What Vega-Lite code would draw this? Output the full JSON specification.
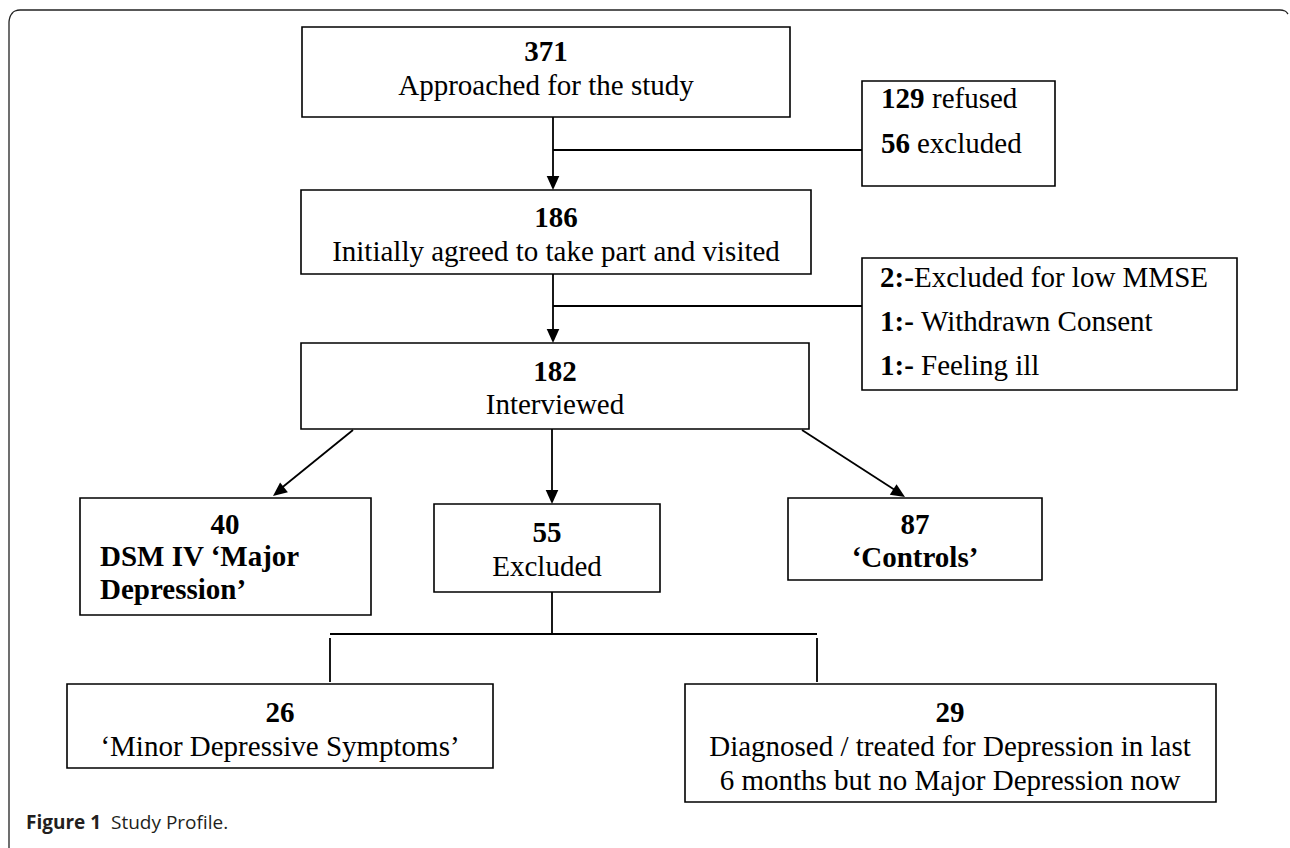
{
  "$schema": "https://vega.github.io/schema/vega-lite/v6.json",
  "width": 1290,
  "height": 848,
  "padding": 0,
  "autosize": {"type": "none"},
  "background": "white",
  "config": {"view": {"stroke": null}},
  "datasets": {
    "frame": [
      {"o": 1, "x": 9, "y": 848},
      {"o": 2, "x": 9, "y": 22},
      {"o": 3, "x": 10, "y": 17},
      {"o": 4, "x": 12, "y": 13.5},
      {"o": 5, "x": 15, "y": 11},
      {"o": 6, "x": 20, "y": 10},
      {"o": 7, "x": 1280, "y": 10},
      {"o": 8, "x": 1285, "y": 11},
      {"o": 9, "x": 1288, "y": 14}
    ],
    "boxes": [
      {"id": "371", "x1": 302, "x2": 790, "y1": 27, "y2": 117},
      {"id": "129", "x1": 862, "x2": 1055, "y1": 81, "y2": 186},
      {"id": "186", "x1": 301, "x2": 811, "y1": 190, "y2": 274},
      {"id": "2", "x1": 862, "x2": 1237, "y1": 258, "y2": 390},
      {"id": "182", "x1": 301, "x2": 809, "y1": 343, "y2": 429},
      {"id": "40", "x1": 80, "x2": 371, "y1": 498, "y2": 615},
      {"id": "55", "x1": 434, "x2": 660, "y1": 504, "y2": 592},
      {"id": "87", "x1": 788, "x2": 1042, "y1": 498, "y2": 580},
      {"id": "26", "x1": 67, "x2": 493, "y1": 684, "y2": 768},
      {"id": "29", "x1": 685, "x2": 1216, "y1": 684, "y2": 802}
    ],
    "links": [
      {"x1": 553, "y1": 117, "x2": 553, "y2": 182},
      {"x1": 553, "y1": 274, "x2": 553, "y2": 335},
      {"x1": 353, "y1": 430, "x2": 279, "y2": 490},
      {"x1": 552, "y1": 429, "x2": 552, "y2": 496},
      {"x1": 802, "y1": 430, "x2": 898, "y2": 492},
      {"x1": 553, "y1": 150, "x2": 862, "y2": 150},
      {"x1": 553, "y1": 306, "x2": 862, "y2": 306},
      {"x1": 552, "y1": 592, "x2": 552, "y2": 634},
      {"x1": 330, "y1": 634, "x2": 817, "y2": 634},
      {"x1": 330, "y1": 638, "x2": 330, "y2": 682},
      {"x1": 817, "y1": 638, "x2": 817, "y2": 682}
    ],
    "heads": [
      {"x": 553, "y": 190, "dir": 0},
      {"x": 553, "y": 343, "dir": 0},
      {"x": 273, "y": 496, "dir": 51.8},
      {"x": 552, "y": 504, "dir": 0},
      {"x": 905, "y": 497, "dir": -57.7}
    ],
    "centerBold": [
      {"x": 546, "y": 52, "t": "371"},
      {"x": 556, "y": 218, "t": "186"},
      {"x": 555, "y": 372, "t": "182"},
      {"x": 225, "y": 525, "t": "40"},
      {"x": 547, "y": 533, "t": "55"},
      {"x": 915, "y": 525, "t": "87"},
      {"x": 915, "y": 558, "t": "‘Controls’"},
      {"x": 280, "y": 713, "t": "26"},
      {"x": 950, "y": 713, "t": "29"}
    ],
    "centerPlain": [
      {"x": 546, "y": 86, "t": "Approached for the study"},
      {"x": 556, "y": 252, "t": "Initially agreed to take part and visited"},
      {"x": 555, "y": 405, "t": "Interviewed"},
      {"x": 547, "y": 567, "t": "Excluded"},
      {"x": 280, "y": 747, "t": "‘Minor Depressive Symptoms’"},
      {"x": 950, "y": 747, "t": "Diagnosed / treated for Depression in last"},
      {"x": 950, "y": 781, "t": "6 months but no Major Depression now"}
    ],
    "leftBold": [
      {"x": 881, "y": 99, "t": "129"},
      {"x": 881, "y": 144, "t": "56"},
      {"x": 880, "y": 278, "t": "2:-"},
      {"x": 880, "y": 322, "t": "1:-"},
      {"x": 880, "y": 366, "t": "1:-"},
      {"x": 100, "y": 557, "t": "DSM IV ‘Major"},
      {"x": 100, "y": 590, "t": "Depression’"}
    ],
    "leftPlain": [
      {"x": 932, "y": 99, "t": "refused"},
      {"x": 917, "y": 144, "t": "excluded"},
      {"x": 914, "y": 278, "t": "Excluded for low MMSE"},
      {"x": 921, "y": 322, "t": "Withdrawn Consent"},
      {"x": 921, "y": 366, "t": "Feeling ill"}
    ],
    "capBold": [{"x": 26, "y": 829, "t": "Figure 1"}],
    "capPlain": [{"x": 111, "y": 829, "t": "Study Profile."}]
  },
  "layer": [
    {
      "data": {"name": "frame"},
      "mark": {"type": "line", "color": "#222222", "strokeWidth": 1.3, "interpolate": "monotone"},
      "encoding": {
        "x": {"field": "x", "type": "quantitative", "axis": null, "scale": {"domain": [0, 1290], "range": [0, 1290], "nice": false, "zero": false}},
        "y": {"field": "y", "type": "quantitative", "axis": null, "scale": {"domain": [0, 848], "range": [0, 848], "nice": false, "zero": false}},
        "order": {"field": "o", "type": "quantitative"}
      }
    },
    {
      "data": {"name": "boxes"},
      "mark": {"type": "rect", "fill": "white", "stroke": "black", "strokeWidth": 1.6},
      "encoding": {
        "x": {"field": "x1", "type": "quantitative"},
        "x2": {"field": "x2"},
        "y": {"field": "y1", "type": "quantitative"},
        "y2": {"field": "y2"}
      }
    },
    {
      "data": {"name": "links"},
      "mark": {"type": "rule", "color": "black", "strokeWidth": 1.8},
      "encoding": {
        "x": {"field": "x1", "type": "quantitative"},
        "x2": {"field": "x2"},
        "y": {"field": "y1", "type": "quantitative"},
        "y2": {"field": "y2"}
      }
    },
    {
      "data": {"name": "heads"},
      "mark": {"type": "point", "shape": "M-0.45,-1L0.45,-1L0,0Z", "filled": true, "color": "black", "opacity": 1, "size": 784},
      "encoding": {
        "x": {"field": "x", "type": "quantitative"},
        "y": {"field": "y", "type": "quantitative"},
        "angle": {"field": "dir", "type": "quantitative", "scale": null}
      }
    },
    {
      "data": {"name": "centerBold"},
      "mark": {"type": "text", "font": "Liberation Serif", "fontSize": 29, "fontWeight": "bold", "align": "center", "baseline": "middle", "color": "black"},
      "encoding": {
        "x": {"field": "x", "type": "quantitative"},
        "y": {"field": "y", "type": "quantitative"},
        "text": {"field": "t"}
      }
    },
    {
      "data": {"name": "centerPlain"},
      "mark": {"type": "text", "font": "Liberation Serif", "fontSize": 29, "align": "center", "baseline": "middle", "color": "black"},
      "encoding": {
        "x": {"field": "x", "type": "quantitative"},
        "y": {"field": "y", "type": "quantitative"},
        "text": {"field": "t"}
      }
    },
    {
      "data": {"name": "leftBold"},
      "mark": {"type": "text", "font": "Liberation Serif", "fontSize": 29, "fontWeight": "bold", "align": "left", "baseline": "middle", "color": "black"},
      "encoding": {
        "x": {"field": "x", "type": "quantitative"},
        "y": {"field": "y", "type": "quantitative"},
        "text": {"field": "t"}
      }
    },
    {
      "data": {"name": "leftPlain"},
      "mark": {"type": "text", "font": "Liberation Serif", "fontSize": 29, "align": "left", "baseline": "middle", "color": "black"},
      "encoding": {
        "x": {"field": "x", "type": "quantitative"},
        "y": {"field": "y", "type": "quantitative"},
        "text": {"field": "t"}
      }
    },
    {
      "data": {"name": "capBold"},
      "mark": {"type": "text", "font": "Open Sans", "fontSize": 19, "fontWeight": "bold", "align": "left", "baseline": "alphabetic", "color": "#231f20"},
      "encoding": {
        "x": {"field": "x", "type": "quantitative"},
        "y": {"field": "y", "type": "quantitative"},
        "text": {"field": "t"}
      }
    },
    {
      "data": {"name": "capPlain"},
      "mark": {"type": "text", "font": "Open Sans", "fontSize": 19, "align": "left", "baseline": "alphabetic", "color": "#231f20"},
      "encoding": {
        "x": {"field": "x", "type": "quantitative"},
        "y": {"field": "y", "type": "quantitative"},
        "text": {"field": "t"}
      }
    }
  ]
}
